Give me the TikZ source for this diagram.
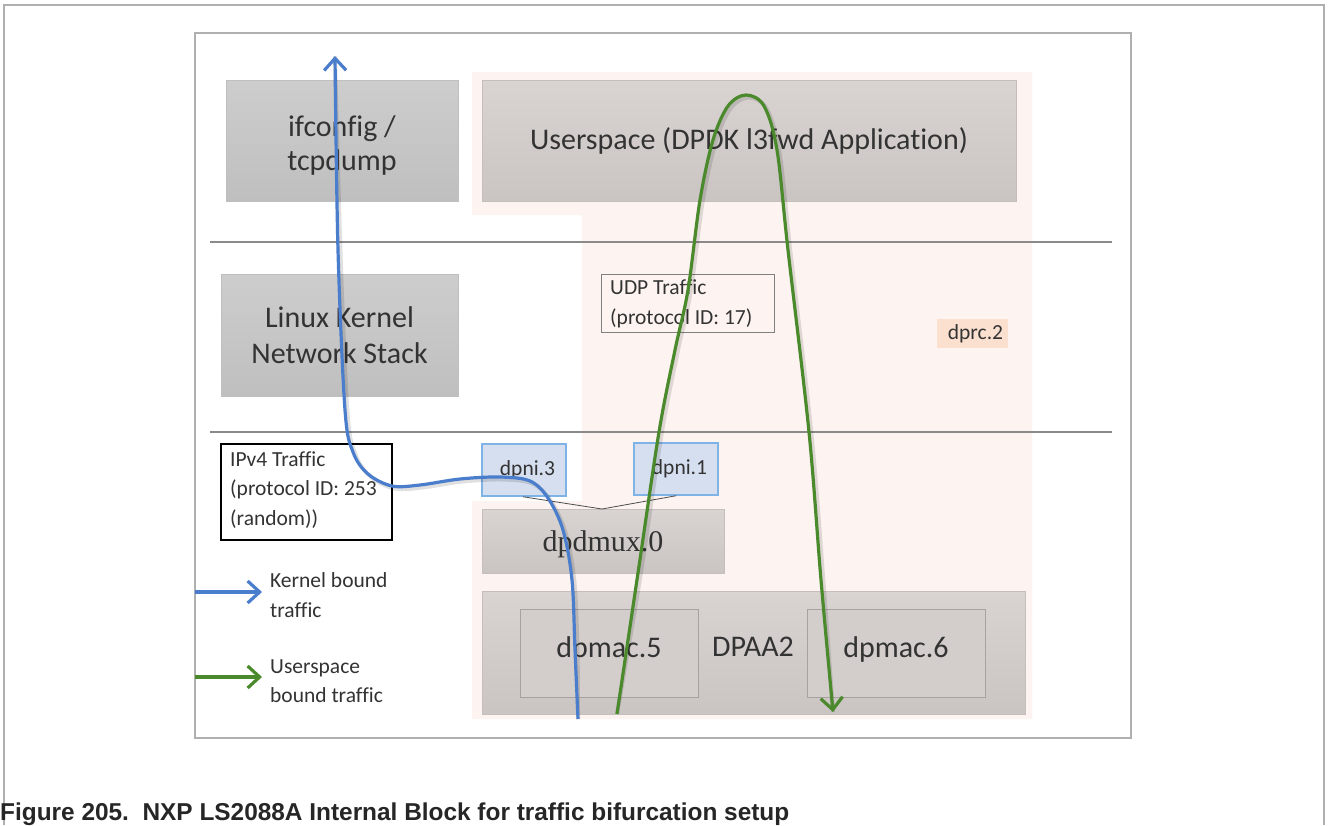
\documentclass[tikz,border=0pt]{standalone}
\usepackage{fontspec}
\setmainfont{Carlito}[Ligatures=CommonOff]
\newfontfamily\capfont{Liberation Sans}
\newfontfamily\serifx{Liberation Serif}
\usetikzlibrary{arrows.meta}
\definecolor{framegray}{HTML}{B0B0B0}
\definecolor{linegray}{HTML}{8A8A8A}
\definecolor{pinkbg}{HTML}{FDF4F1}
\definecolor{peach}{HTML}{FBE0D0}
\definecolor{gtop}{HTML}{CDCDCD}
\definecolor{gbot}{HTML}{BFBFBF}
\definecolor{wtop}{HTML}{D9D4D1}
\definecolor{wbot}{HTML}{CAC5C2}
\definecolor{wbord}{HTML}{C4BFBC}
\definecolor{nifill}{HTML}{D6DFEF}
\definecolor{niborder}{HTML}{7FB2E5}
\definecolor{txt}{HTML}{333333}
\definecolor{bluel}{HTML}{4A7DCB}
\definecolor{greenl}{HTML}{4B8A2C}
\tikzset{
  bigtext/.style={font=\fontsize{30}{36.6}\selectfont, text=txt},
  smalltext/.style={font=\fontsize{21.5}{29.5}\selectfont, text=txt},
  gbox/.style={rectangle, inner sep=0pt, top color=gtop, bottom color=gbot, draw=gbot, line width=1pt, bigtext, align=center},
  wbox/.style={rectangle, inner sep=0pt, top color=wtop, bottom color=wbot, draw=wbord, line width=1pt, bigtext, align=center},
  macbox/.style={rectangle, inner sep=0pt, fill=wtop!60!wbot, draw=wbord!85!black, line width=0.8pt, bigtext},
  nibox/.style={rectangle, inner sep=0pt, fill=nifill, draw=niborder, line width=1.5pt, smalltext},
  sepline/.style={draw=linegray, line width=1.6pt},
  flowblue/.style={draw=bluel, line width=3.2pt},
  flowgreen/.style={draw=greenl, line width=3.2pt},
  shadowline/.style={draw=black, opacity=0.12, line width=4pt},
  tip/.style={-{Straight Barb[length=12pt,width=22pt,line width=3.2pt]}},
}
\begin{document}
\begin{tikzpicture}[x=1pt,y=-1pt]
\useasboundingbox (0,0) rectangle (1328,825);
\fill[white] (0,0) rectangle (1328,825);
% outer frame (open at bottom)
\draw[framegray, line width=1.5pt] (4,825) -- (4,5) -- (1324,5) -- (1324,825);
% inner frame
\draw[framegray, line width=1.5pt] (195,33) rectangle (1131,738);
% dprc.2 container region
\fill[pinkbg] (472,72) -- (1032,72) -- (1032,719) -- (472,719) -- (472,501) -- (582,501) -- (582,215) -- (472,215) -- cycle;
% separator lines
\draw[sepline] (210,242) -- (1112,242);
\draw[sepline] (210,432) -- (1112,432);
% boxes
\node[gbox, minimum width=232, minimum height=121] (ifc) at (342,140.5) {};
\node[bigtext, align=center, inner sep=0pt, font=\fontsize{30}{34}\selectfont] (ifct) at (342,145) {ifconfig /\\tcpdump};
\node[wbox, minimum width=534, minimum height=121] (usr) at (749,140.5) {Userspace (DPDK l3fwd Application)};
\node[gbox, minimum width=237, minimum height=122] (lks) at (339.5,335) {Linux Kernel\\Network Stack};
\node[rectangle, draw=black!50, line width=1pt, minimum width=173, minimum height=58, inner sep=0pt] (udp) at (687.5,303) {};
\node[smalltext, anchor=west, align=left, inner sep=0pt] (udpt) at (610,304) {UDP Traffic\\(protocol ID: 17)};
\node[rectangle, fill=peach, minimum width=71, minimum height=29, inner sep=0pt, smalltext] (dprc) at (972.5,333.5) {\hspace*{6pt}dprc.2};
\node[rectangle, draw=black, fill=white, line width=1.5pt, minimum width=171, minimum height=96, inner sep=0pt] (ipv4) at (306.5,492) {};
\node[smalltext, anchor=west, align=left, inner sep=0pt] (ipv4t) at (230,490) {IPv4 Traffic\\(protocol ID: 253\\(random))};
\node[nibox, minimum width=84, minimum height=52] (dpni3) at (524,470) {\hspace*{7pt}dpni.3};
\node[nibox, minimum width=84, minimum height=52] (dpni1) at (676,469) {\hspace*{7pt}dpni.1};
\node[wbox, minimum width=242, minimum height=64] (mux) at (603,541) {};
\node[inner sep=0pt, text=txt, font=\serifx\fontsize{30}{36}\selectfont] (muxt) at (603,544) {dpdmux.0};
\node[wbox, minimum width=543, minimum height=123] (dpaa) at (753.5,652.5) {};
\node[macbox, minimum width=178, minimum height=88] (mac5) at (609,653) {};
\node[macbox, minimum width=178, minimum height=88] (mac6) at (896,653) {};
\node[bigtext, inner sep=0pt] (mac5t) at (609,649) {dpmac.5};
\node[bigtext, inner sep=0pt] (mac6t) at (896,649) {dpmac.6};
\node[bigtext, inner sep=0pt] (dpaat) at (753,647) {DPAA2};
% dpni to dpdmux links
\coordinate (vlow) at (602,509);
\draw[black!70, line width=0.8pt] (dpni3.south) ++(-1,0) -- (vlow) -- (dpni1.south);
% legend
\coordinate (lb1) at (195,592);
\coordinate (lb2) at (262,592);
\coordinate (lg1) at (195,677);
\coordinate (lg2) at (262,677);
\draw[flowblue, tip] (lb1) -- (lb2);
\draw[flowgreen, tip] (lg1) -- (lg2);
\node[smalltext, anchor=west, align=left, inner sep=0pt] (lbt) at (270,595) {Kernel bound\\traffic};
\node[smalltext, anchor=west, align=left, inner sep=0pt] (lgt) at (270,681) {Userspace\\bound traffic};
% traffic paths
\def\bluepts{(bstart) (575,650) (572,580) (563,530) (548,498) (530,481) (500,477) (460,479) (420,485) (392,486) (368,474) (353,452) (345,410) (338,250) (bend)}
\def\greenpts{(gstart) (638,573) (659,432) (675,350) (688,290) (700,200) (713,140) (728,106) (746,95) (764,106) (777,150) (788,250) (809,432) (821,580) (gend)}
\coordinate (bstart) at (578,719);
\coordinate (bend) at (335,56);
\coordinate (gstart) at (617,714);
\coordinate (gend) at (833,712);
\draw[shadowline, xshift=2.5pt, yshift=-2.5pt] plot[smooth, tension=0.55] coordinates {\bluepts};
\draw[shadowline, xshift=2.5pt, yshift=-2.5pt] plot[smooth, tension=0.55] coordinates {\greenpts};
\draw[flowblue, tip] plot[smooth, tension=0.55] coordinates {\bluepts};
\draw[flowgreen, tip] plot[smooth, tension=0.55] coordinates {\greenpts};
% caption
\node[anchor=base west, inner sep=0pt, font=\capfont\bfseries\fontsize{24.4}{28}\selectfont, text=black!85] (cap) at (0,820) {Figure 205.\ \ NXP LS2088A Internal Block for traffic bifurcation setup};
\end{tikzpicture}
\end{document}
